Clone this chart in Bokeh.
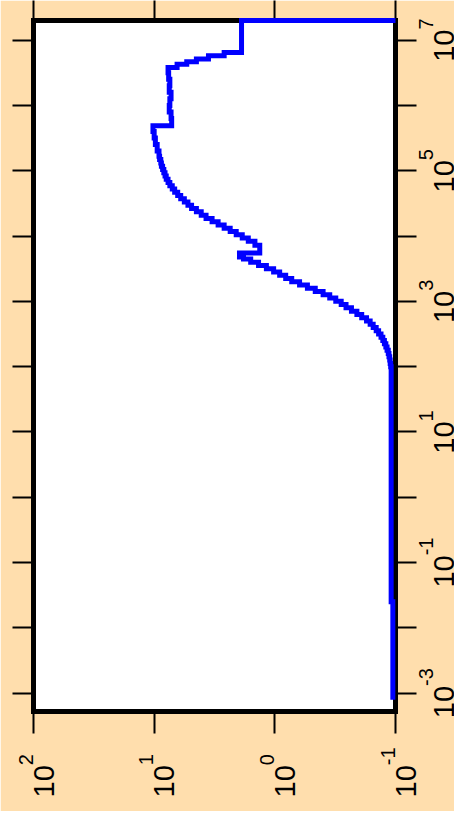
import math
from bokeh.plotting import figure
from bokeh.models import Range1d, LogAxis, FixedTicker, LogTickFormatter, ColumnDataSource
from bokeh.core.properties import value
from bokeh.embed import file_html
from bokeh.resources import INLINE

# ---- data: bin starts (log10 of x) and values (log10 of y)
freq_log10 = [-3.10, -1.60,
              2.00, 2.05, 2.10, 2.15, 2.20, 2.25, 2.30, 2.35, 2.40, 2.45,
              2.50, 2.55, 2.60, 2.65, 2.70, 2.75, 2.80, 2.85, 2.90, 2.95,
              3.00, 3.05, 3.10, 3.15, 3.20, 3.25, 3.30, 3.35, 3.40, 3.45,
              3.50, 3.55, 3.60, 3.65,
              3.68, 3.74, 3.86, 3.92,
              3.97, 4.02, 4.07, 4.12, 4.17, 4.22, 4.27, 4.32, 4.37, 4.42,
              4.47, 4.52, 4.57, 4.62, 4.67, 4.72, 4.77, 4.82, 4.87, 4.92,
              4.97, 5.02, 5.07, 5.12, 5.17, 5.22,
              5.30, 5.40, 5.50, 5.60,
              5.69, 5.80, 5.90, 6.00, 6.10, 6.20, 6.30, 6.40, 6.50,
              6.58, 6.63, 6.67, 6.71, 6.76, 6.81, 7.30]
value_log10 = [-0.978, -0.964,
               -0.960, -0.956, -0.952, -0.946, -0.940, -0.930, -0.920, -0.908, -0.895, -0.880,
               -0.860, -0.840, -0.815, -0.790, -0.760, -0.720, -0.680, -0.635, -0.590, -0.550,
               -0.505, -0.455, -0.400, -0.335, -0.270, -0.205, -0.140, -0.090, -0.040, 0.010,
               0.070, 0.135, 0.200, 0.260,
               0.293, 0.125, 0.165, 0.220,
               0.270, 0.320, 0.370, 0.420, 0.470, 0.520, 0.570, 0.610, 0.650, 0.690,
               0.720, 0.750, 0.780, 0.805, 0.830, 0.850, 0.870, 0.885, 0.900, 0.910,
               0.920, 0.930, 0.940, 0.945, 0.955, 0.960,
               0.975, 0.990, 1.000, 1.010,
               0.855, 0.860, 0.875, 0.870, 0.860, 0.875, 0.870, 0.880, 0.885,
               0.810, 0.730, 0.650, 0.550, 0.420, 0.276, -1.000]
assert len(freq_log10) == len(value_log10)

# ---- axis limits and ticks
value_min, value_max = 0.1, 100
freq_min_log10, freq_max_log10 = -3.28, 7.30
value_ticks = [100, 10, 1, 0.1]
freq_ticks = [1e-3, 1e-2, 1e-1, 1e0, 1e1, 1e2, 1e3, 1e4, 1e5, 1e6, 1e7]
freq_labelled = [1e-3, 1e-1, 1e1, 1e3, 1e5, 1e7]

BG = "#FFDEAD"
FONT = "Liberation Sans"
F_BASE, F_EXP = 29, 20          # label font sizes (px)
RAISE = 18                      # exponent raise (px)

p = figure(width=454, height=811,
           x_axis_type="log", y_axis_type="log",
           x_range=Range1d(value_max, value_min),
           y_range=Range1d(10 ** freq_min_log10, 10 ** freq_max_log10),
           x_axis_location=None, y_axis_location=None,
           output_backend="svg", toolbar_location=None,
           background_fill_color="white", border_fill_color=BG,
           min_border_left=33, min_border_right=59,
           min_border_top=20, min_border_bottom=100)
p.xgrid.visible = False
p.ygrid.visible = False
p.outline_line_color = "black"
p.outline_line_width = 5


def make_axis(ticks, tick_out):
    ax = LogAxis(ticker=FixedTicker(ticks=ticks), formatter=LogTickFormatter())
    ax.major_tick_in = 0
    ax.major_tick_out = tick_out
    ax.major_tick_line_width = 2
    ax.major_tick_line_color = "black"
    ax.minor_tick_line_color = None
    ax.axis_line_width = 5
    ax.axis_line_color = "black"
    ax.axis_line_cap = "square"
    ax.major_label_standoff = 0
    ax.major_label_overrides = {t: "" for t in ticks}
    return ax


p.add_layout(make_axis(value_ticks, 22), "below")
p.add_layout(make_axis(value_ticks, 20), "above")
p.add_layout(make_axis(freq_ticks, 21), "left")
p.add_layout(make_axis(freq_ticks, 21), "right")


# ---- tick labels "10" with superscript exponent, rotated (reading bottom to top)
def text_width(s, size):
    return sum((0.333 if c == "-" else 0.556) for c in s) * size


def label_source(ticks, xs, ys, start_offsets, base_x_offset):
    base = dict(x=[], y=[], text=[], xo=[], yo=[])
    expo = dict(x=[], y=[], text=[], xo=[], yo=[])
    for t, x, y, s0 in zip(ticks, xs, ys, start_offsets):
        e = str(int(round(math.log10(t))))
        wb = text_width("10", F_BASE)
        base["x"].append(x); base["y"].append(y); base["text"].append("10")
        base["xo"].append(base_x_offset); base["yo"].append(s0)
        expo["x"].append(x); expo["y"].append(y); expo["text"].append(e)
        expo["xo"].append(base_x_offset - RAISE); expo["yo"].append(s0 - wb)
    return ColumnDataSource(base), ColumnDataSource(expo)


def draw_labels(src_base, src_exp):
    for src, size in ((src_base, F_BASE), (src_exp, F_EXP)):
        p.text(x="x", y="y", text="text", source=src, x_offset="xo", y_offset="yo",
               angle=math.pi / 2, text_align="left", text_baseline="alphabetic",
               text_font=value(FONT), text_font_size=value(f"{size}px"),
               text_color="black", level="overlay")


# bottom labels: starts aligned below the axis
b_base, b_exp = label_source(value_ticks, value_ticks,
                             [10 ** freq_min_log10] * len(value_ticks),
                             [86] * len(value_ticks), 10)
draw_labels(b_base, b_exp)

# right labels: centred on their ticks
starts = []
for t in freq_labelled:
    e = str(int(round(math.log10(t))))
    total = text_width("10", F_BASE) + text_width(e, F_EXP)
    starts.append(total / 2)
r_base, r_exp = label_source(freq_labelled, [value_min] * len(freq_labelled),
                             freq_labelled, starts, 48)
draw_labels(r_base, r_exp)

# ---- staircase path built from the data (value held over each bin, then a jump)
freq_log10_path = list(freq_log10)
freq_log10_path[-1] = min(freq_log10_path[-1], freq_max_log10)
xs, ys = [], []
n = len(freq_log10_path)
for i in range(n):
    v = 10 ** value_log10[i]
    xs.append(v)
    ys.append(10 ** freq_log10_path[i])
    if i + 1 < n:
        xs.append(v)
        ys.append(10 ** freq_log10_path[i + 1])

p.line(xs, ys, line_color="blue", line_width=5, line_join="miter", level="overlay")

open("out.html", "w").write(file_html(p, INLINE))
